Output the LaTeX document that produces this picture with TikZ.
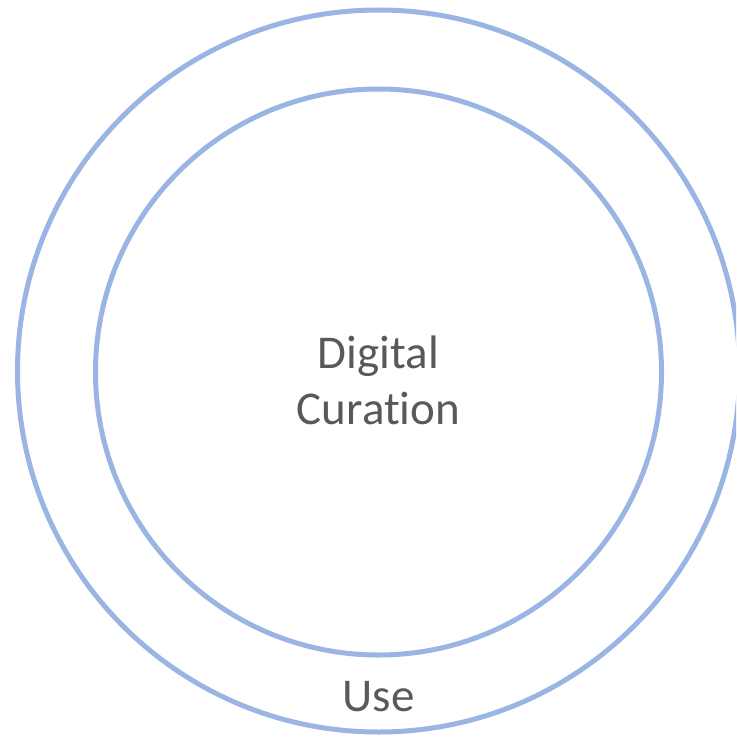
\documentclass[tikz,border=0pt]{standalone}
\usepackage{fontspec}
\setmainfont{Carlito}[RawFeature={-liga;-clig;-dlig}]
\definecolor{ringblue}{RGB}{154,181,227}
\definecolor{textgray}{RGB}{89,89,89}
\tikzset{
  ring/.style={circle, draw=ringblue, line width=5pt, inner sep=0pt},
  lbl/.style={text=textgray, font=\fontsize{47}{56}\selectfont, align=center, inner sep=0pt}
}
\begin{document}
\begin{tikzpicture}[x=1pt,y=-1pt]
\useasboundingbox (0,0) rectangle (736,738);
\clip (0,0) rectangle (736,738);
\node[ring, minimum size=722pt] (outer) at (378.5,371) {};
\node[ring, minimum size=566pt] (inner) at (378.5,372) {};
\node[lbl] (dc) at (378.5,380) {Digital\\Curation};
\node[lbl, anchor=base] (use) at (378.5,711) {Use};
\end{tikzpicture}
\end{document}
